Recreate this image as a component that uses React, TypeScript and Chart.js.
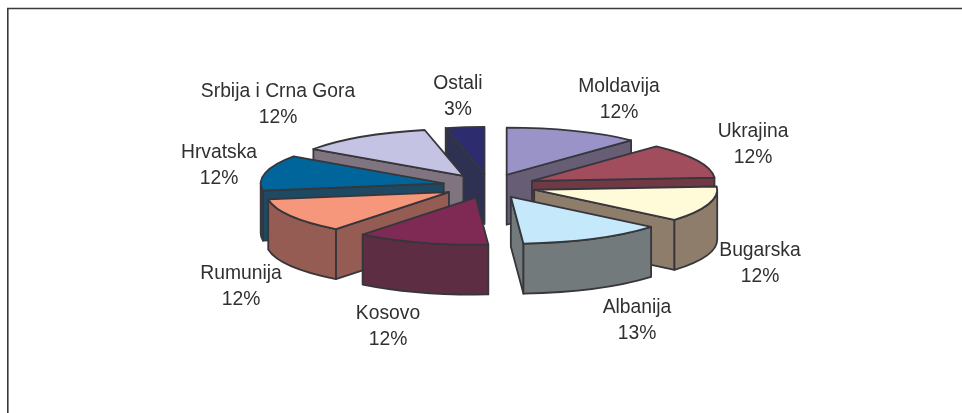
import React, { useEffect, useRef } from "react";
import { Chart, registerables } from "chart.js";

Chart.register(...registerables);

const categories = ["Moldavija", "Ukrajina", "Bugarska", "Albanija", "Kosovo", "Rumunija", "Hrvatska", "Srbija i Crna Gora", "Ostali"];
const shares = [11.9, 12.0, 12.2, 12.8, 11.7, 11.9, 12.2, 11.9, 3.4];
const topColors = ["#9a93c8", "#a24d5e", "#fffbd8", "#c5e9fa", "#7f2a55", "#f6967a", "#00659b", "#c5c3e3", "#2c2c6e"];
const wallColors = ["#675d75", "#703944", "#8f7d6c", "#737a7c", "#5c2d43", "#955c53", "#1d4a62", "#7f747f", "#2f3152"];
const paintOrder = [8, 0, 7, 1, 6, 2, 5, 3, 4];
const labelCentres = [[619, 87], [753, 132], [760, 251], [637, 308], [388, 314], [241, 274], [219, 153], [278, 92], [458, 84]];

const SQUASH = 0.257;
const DEPTH = 50;
const EXPLODE = 47;
const EDGE = "#36363c";

const pie3d = {
  id: "pie3d",
  beforeDatasetsDraw(chart: any) {
    const ctx: CanvasRenderingContext2D = chart.ctx;
    const arcs = chart.getDatasetMeta(0).data;
    ctx.save();
    ctx.lineWidth = 1.8;
    ctx.lineJoin = "round";
    ctx.strokeStyle = EDGE;
    for (const i of paintOrder) {
      const arc = arcs[i];
      const s = arc.startAngle;
      const e = arc.endAngle;
      const R = arc.outerRadius;
      const mid = (s + e) / 2;
      const cx = arc.x + EXPLODE * Math.cos(mid);
      const cy = arc.y + EXPLODE * SQUASH * Math.sin(mid);
      const px = (a: number) => cx + R * Math.cos(a);
      const py = (a: number) => cy + R * SQUASH * Math.sin(a);
      ctx.fillStyle = wallColors[i];
      const face = (a: number) => {
        ctx.beginPath();
        ctx.moveTo(cx, cy);
        ctx.lineTo(px(a), py(a));
        ctx.lineTo(px(a), py(a) + DEPTH);
        ctx.lineTo(cx, cy + DEPTH);
        ctx.closePath();
        ctx.fill();
        ctx.stroke();
      };
      if (Math.sin(s + Math.PI / 2) < 0) face(s);
      if (Math.sin(e + Math.PI / 2) > 0) face(e);
      const a0 = Math.max(s, 0);
      const a1 = Math.min(e, Math.PI);
      if (a1 > a0) {
        ctx.beginPath();
        ctx.ellipse(cx, cy, R, R * SQUASH, 0, a0, a1);
        ctx.lineTo(px(a1), py(a1) + DEPTH);
        ctx.ellipse(cx, cy + DEPTH, R, R * SQUASH, 0, a1, a0, true);
        ctx.closePath();
        ctx.fill();
        ctx.stroke();
      }
      ctx.fillStyle = topColors[i];
      ctx.beginPath();
      ctx.moveTo(cx, cy);
      ctx.ellipse(cx, cy, R, R * SQUASH, 0, s, e);
      ctx.closePath();
      ctx.fill();
      ctx.stroke();
    }
    ctx.restore();
    return false;
  },
  afterDraw(chart: any) {
    const ctx: CanvasRenderingContext2D = chart.ctx;
    ctx.save();
    ctx.strokeStyle = "#3a3a3a";
    ctx.lineWidth = 1.6;
    ctx.beginPath();
    ctx.moveTo(7.8, 413);
    ctx.lineTo(7.8, 8.5);
    ctx.lineTo(962, 8.5);
    ctx.stroke();
    ctx.fillStyle = "#303030";
    ctx.font = '19.3px "Liberation Sans", Arial, sans-serif';
    ctx.textAlign = "center";
    ctx.textBaseline = "middle";
    categories.forEach((name, i) => {
      const [x, y] = labelCentres[i];
      ctx.fillText(name, x, y);
      ctx.fillText(`${Math.round(shares[i])}%`, x, y + 26);
    });
    ctx.restore();
  },
};

export default function App() {
  const ref = useRef<HTMLCanvasElement>(null);
  useEffect(() => {
    const chart = new Chart(ref.current!, {
      type: "pie",
      data: { labels: categories, datasets: [{ data: shares, backgroundColor: topColors, borderWidth: 0 }] },
      options: {
        animation: false,
        responsive: false,
        maintainAspectRatio: false,
        radius: 183,
        layout: { padding: { left: 17, bottom: 41 } },
        plugins: { legend: { display: false }, tooltip: { enabled: false } },
      } as any,
      plugins: [pie3d as any],
    });
    return () => chart.destroy();
  }, []);
  return (
    <div style={{ position: "fixed", left: 0, top: 0, width: 962, height: 413, background: "#fff" }}>
      <canvas ref={ref} width={962} height={413} style={{ display: "block" }} />
    </div>
  );
}
